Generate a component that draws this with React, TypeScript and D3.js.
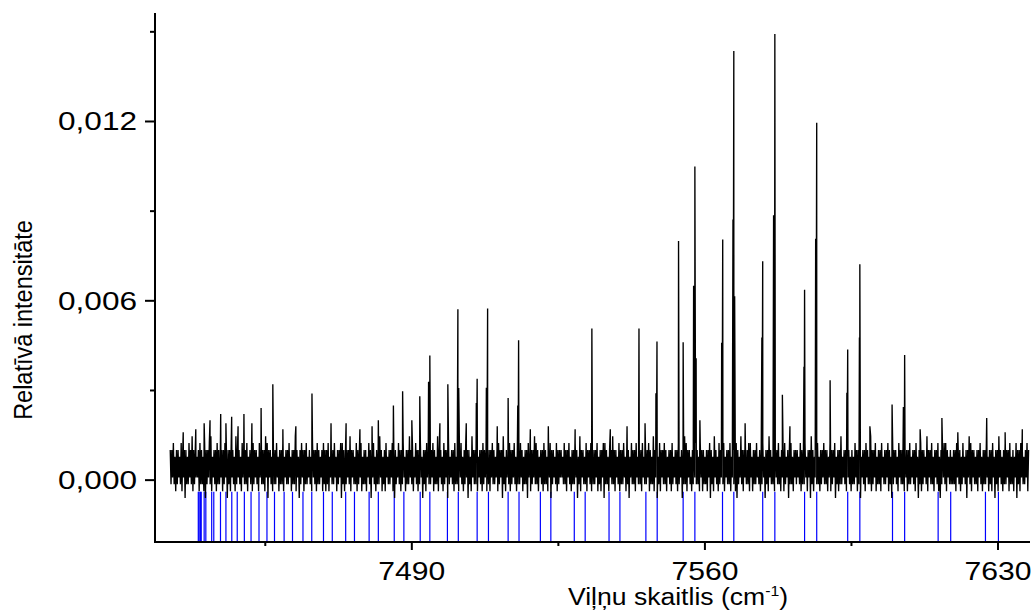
import React from 'react';
import * as d3 from 'd3';

const W = 1035;
const H = 612;

// axis ticks
const xTicks = [7490, 7560, 7630];
const xMinorTicks = [7455, 7525, 7595];
const yTicks = [0, 0.006, 0.012];
const yMinorTicks = [0.003, 0.009, 0.015];

const xDomain = [7428.66, 7637.64];
const yDomain = [-0.00207, 0.01563];

// blue reference (calculated) line positions, cm-1
const refLines = [
  7439.0, 7439.2, 7439.5, 7439.7, 7440.4, 7440.8, 7442.2, 7442.7, 7444.3, 7445.6,
  7447.0, 7448.3, 7450.0, 7451.6, 7453.5, 7455.4, 7457.2, 7459.5, 7461.5, 7464.0,
  7466.1, 7468.9, 7471.0, 7474.2, 7476.3, 7479.8, 7482.0, 7485.8, 7488.1, 7492.0,
  7494.3, 7498.5, 7501.1, 7505.6, 7508.3, 7513.0, 7515.6, 7520.7, 7523.2, 7528.8,
  7531.4, 7537.1, 7539.7, 7545.9, 7548.6, 7554.8, 7557.6, 7564.2, 7566.9, 7573.8,
  7576.7, 7583.8, 7586.7, 7594.1, 7597.0, 7604.8, 7607.7, 7615.7, 7618.7, 7627.0,
  7630.1,
];
const refLineTop = -0.00039;

// measured spectral peaks (position cm-1, relative intensity)
const peakPositions = [
  7444.35, 7446.97, 7449.9, 7454.0, 7456.8, 7466.15, 7485.6, 7487.8, 7491.9, 7494.0,
  7494.3, 7498.6, 7501.0, 7501.2, 7505.4, 7505.6, 7507.8, 7508.1, 7513.0, 7515.3,
  7515.5, 7533.0, 7544.25, 7548.3, 7548.55, 7553.7, 7554.8, 7557.3, 7557.6, 7557.9,
  7564.0, 7564.25, 7566.7, 7566.9, 7567.1, 7573.6, 7573.8, 7576.4, 7576.7, 7578.5,
  7583.65, 7583.8, 7586.45, 7586.7, 7589.9, 7593.9, 7594.1, 7596.9, 7597.0, 7604.7,
  7607.4, 7607.7, 7616.6, 7627.3,
  7435.4, 7438.4, 7440.4, 7441.8, 7445.6, 7448.5, 7451.8, 7459.2, 7462.3, 7470.7,
  7474.3, 7477.6, 7480.5, 7482.0, 7490.0, 7496.7, 7503.0, 7510.4, 7518.3, 7522.6,
  7529.0, 7537.4, 7541.4, 7545.7, 7558.8, 7569.6, 7580.3, 7599.4, 7611.4, 7620.4,
  7631.7, 7635.8,
];
const peakHeights = [
  0.00221, 0.00212, 0.00221, 0.00241, 0.00321, 0.0029, 0.0025, 0.00297, 0.00281, 0.00329,
  0.00417, 0.00321, 0.00572, 0.00308, 0.00258, 0.00339, 0.00309, 0.00574, 0.00275, 0.0025,
  0.00468, 0.00507, 0.00507, 0.00291, 0.00464, 0.008, 0.00461, 0.0065, 0.01049, 0.00408,
  0.0046, 0.00805, 0.00872, 0.01436, 0.00615, 0.00477, 0.00732, 0.00886, 0.01493, 0.00286,
  0.00379, 0.00637, 0.00808, 0.01196, 0.00334, 0.00292, 0.00437, 0.00477, 0.00722, 0.00253,
  0.00245, 0.00419, 0.00208, 0.00208,
  0.0016, 0.0017, 0.0019, 0.002, 0.0019, 0.0018, 0.0019, 0.0017, 0.0018, 0.0019,
  0.0019, 0.0017, 0.0018, 0.002, 0.002, 0.0019, 0.0019, 0.0018, 0.0017, 0.0018,
  0.0017, 0.0017, 0.0018, 0.0019, 0.002, 0.0019, 0.0018, 0.0018, 0.0017, 0.0016,
  0.0016, 0.0017,
];

// baseline noise read as upper / lower excursion levels (0..9) along the trace
const noiseStart = 7432.3;
const noiseEnd = 7637.3;
const noiseBase = -0.0006;
const noiseStep = 0.00023;
const noiseHigh = [
  '77867768777687977678768778967787677867787697768778',
  '67787768677987767786778677867797678778676877876787',
  '78677867788767797768778677687786779767867787768778',
  '67797768778677867787697768778677867786787769778677',
  '87767787678779676877867787677867798767787678776877',
  '76877867787697768778677867788767797768778677687786',
  '77867787697768778767786778677987767787687767787697',
  '68778677867787697767886778677867797687786778677867',
  '77687786779767867787768778677967787676877867787697',
  '78677867787697768778677867786787769778677867788767',
  '67787768677987767786778677867797678778676877876787',
].join('');
const noiseLow = [
  '23212321302232123312210232132122312302132123213221',
  '32123213221303212231221322312213023122321321223121',
  '21322312302123213221231221320321223121322310232123',
  '12232132123021322312213212302321221321230213221321',
  '23121322312302132123212231220312322132122130232123',
  '32213212230213221321223121302213221321223120322132',
  '21322312213021322132123212302213212322131221302132',
  '12321322132102321322131223212302132213221312302213',
  '23212231302132212322131230212232132122312032132212',
  '31221322312023213221312232130212321322132102321322',
  '22132123203213221321223121302132122312213021322312',
].join('');

const fmtY = (v: number) => d3.format('.3f')(v).replace('.', ',');

export default function App() {
  const x = d3.scaleLinear().domain(xDomain).range([155, 1030]);
  const y = d3.scaleLinear().domain(yDomain).range([542, 13]);

  const n = noiseHigh.length;
  const step = (noiseEnd - noiseStart) / (n - 1);
  const noise: { x: number; y: number }[] = [];
  for (let i = 0; i < n; i++) {
    noise.push({ x: noiseStart + i * step, y: noiseBase + Number(noiseHigh[i]) * noiseStep });
    if (i < n - 1) {
      noise.push({ x: noiseStart + (i + 0.5) * step, y: noiseBase + Number(noiseLow[i]) * noiseStep });
    }
  }
  const spikes = peakPositions.map((p, i) => ({ x: p, y: peakHeights[i] }));
  const trace = [...noise, ...spikes].sort((a, b) => a.x - b.x);

  const line = d3
    .line<{ x: number; y: number }>()
    .x((d) => x(d.x))
    .y((d) => y(d.y));

  const font = '"Liberation Sans", Arial, sans-serif';
  const axisY = y(yDomain[0]);

  return (
    <svg
      width={W}
      height={H}
      style={{ position: 'absolute', left: 0, top: 0, background: '#fff' }}
      fontFamily={font}
    >
      <rect width={W} height={H} fill="#fff" />
      {refLines.map((r, i) => (
        <line
          key={'r' + i}
          x1={x(r)}
          x2={x(r)}
          y1={y(refLineTop)}
          y2={axisY}
          stroke="#0000ff"
          strokeWidth={1.2}
        />
      ))}
      <path d={line(trace) || ''} fill="none" stroke="#000" strokeWidth={1.35} strokeLinejoin="miter" />

      {/* axes */}
      <line x1={155} x2={155} y1={13} y2={axisY + 1} stroke="#000" strokeWidth={2} />
      <line x1={154} x2={1030} y1={axisY} y2={axisY} stroke="#000" strokeWidth={2} />
      {yTicks.map((t) => (
        <g key={'yt' + t}>
          <line x1={145} x2={155} y1={y(t)} y2={y(t)} stroke="#000" strokeWidth={2} />
          <text x={58} y={y(t) + 9} fontSize={25} textLength={79} lengthAdjust="spacingAndGlyphs">
            {fmtY(t)}
          </text>
        </g>
      ))}
      {yMinorTicks.map((t) => (
        <line key={'ym' + t} x1={150} x2={155} y1={y(t)} y2={y(t)} stroke="#000" strokeWidth={2} />
      ))}
      {xTicks.map((t) => (
        <g key={'xt' + t}>
          <line x1={x(t)} x2={x(t)} y1={axisY} y2={axisY + 8} stroke="#000" strokeWidth={2} />
          <text x={x(t) - 33.5} y={580} fontSize={25} textLength={67} lengthAdjust="spacingAndGlyphs">
            {t}
          </text>
        </g>
      ))}
      {xMinorTicks.map((t) => (
        <line key={'xm' + t} x1={x(t)} x2={x(t)} y1={axisY} y2={axisY + 4} stroke="#000" strokeWidth={2} />
      ))}

      <g transform="translate(568,605) scale(1.13,1)">
        <text x={0} y={0} fontSize={23.5}>
          Viļņu skaitlis (cm
          <tspan fontSize={14} dy={-9}>-1</tspan>
          <tspan dy={9}>)</tspan>
        </text>
      </g>
      <g transform="translate(32,320) scale(1.1,1) rotate(-90)">
        <text x={0} y={0} fontSize={23.5} textAnchor="middle">
          Relatīvā intensitāte
        </text>
      </g>
    </svg>
  );
}
